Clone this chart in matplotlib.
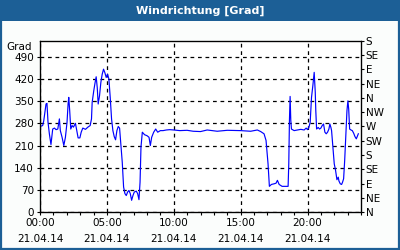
import matplotlib
matplotlib.use("Agg")
import matplotlib.pyplot as plt
from matplotlib.patches import Rectangle

# Stunden seit 00:00 und Windrichtung in Grad
hours = [0.0, 0.2, 0.28, 0.45, 0.52, 0.6, 0.7, 0.82, 0.95, 1.08, 1.2, 1.33, 1.45, 1.52, 1.65, 1.78,
         1.9, 2.02, 2.1, 2.15, 2.22, 2.3, 2.4, 2.5, 2.65, 2.75, 2.85, 2.98, 3.08, 3.2, 3.4, 3.58,
         3.75, 3.85, 3.9, 4.02, 4.12, 4.2, 4.28, 4.35, 4.45, 4.55, 4.65, 4.75, 4.85, 4.95, 5.05,
         5.15, 5.25, 5.35, 5.45, 5.55, 5.65, 5.75, 5.85, 5.95, 6.05, 6.15, 6.25, 6.35, 6.45, 6.55,
         6.65, 6.75, 6.85, 6.95, 7.05, 7.2, 7.3, 7.4, 7.48, 7.55, 7.65, 7.82, 8.0, 8.15, 8.25,
         8.35, 8.5, 8.65, 8.8, 9.0, 9.2, 9.45, 9.7, 10.0, 10.45, 11.0, 11.45, 12.0, 12.5, 13.25,
         14.0, 15.0, 15.75, 16.25, 16.5, 16.75, 16.9, 17.05, 17.15, 17.3, 17.5, 17.65, 17.75,
         17.88, 18.1, 18.35, 18.55, 18.6, 18.65, 18.7, 18.75, 18.8, 19.0, 19.25, 19.5, 19.75,
         19.9, 20.0, 20.1, 20.2, 20.3, 20.4, 20.5, 20.58, 20.62, 20.68, 20.8, 20.9, 21.0, 21.1,
         21.2, 21.3, 21.4, 21.5, 21.6, 21.67, 21.75, 21.8, 21.88, 22.0, 22.1, 22.2, 22.3, 22.35,
         22.45, 22.55, 22.62, 22.7, 22.78, 22.88, 22.95, 23.02, 23.08, 23.15, 23.25, 23.35,
         23.45, 23.55, 23.65, 23.8]
direction = [270, 273, 288, 341, 343, 283, 247, 213, 262, 265, 260, 262, 294, 257, 236, 210,
             236, 283, 341, 362, 320, 262, 273, 268, 280, 257, 234, 234, 252, 265, 261, 268,
             273, 294, 346, 383, 409, 427, 393, 341, 367, 409, 435, 451, 440, 425, 435, 420,
             362, 294, 257, 238, 228, 257, 270, 265, 210, 157, 79, 58, 52, 63, 68, 58, 37, 52,
             63, 66, 58, 39, 94, 205, 252, 244, 241, 236, 210, 236, 252, 262, 252, 257, 257,
             259, 260, 259, 257, 258, 255, 254, 259, 255, 258, 257, 255, 259, 254, 247, 226,
             152, 81, 87, 89, 91, 100, 87, 81, 81, 81, 152, 290, 365, 290, 262, 257, 259, 261,
             259, 265, 260, 267, 283, 362, 399, 441, 378, 320, 262, 267, 262, 265, 273, 278,
             252, 247, 252, 262, 278, 267, 257, 215, 152, 131, 102, 110, 98, 89, 87, 94, 105,
             163, 257, 320, 351, 325, 262, 259, 257, 249, 238, 231, 247]

left_ticks = [0, 70, 140, 210, 280, 350, 420, 490]
right_ticks = [0, 45, 90, 135, 180, 225, 270, 315, 360, 405, 450, 495, 540]
right_labels = ["N", "NE", "E", "SE", "S", "SW", "W", "NW", "N", "NE", "E", "SE", "S"]
x_ticks = [0, 5, 10, 15, 20]
x_labels = ["00:00\n21.04.14", "05:00\n21.04.14", "10:00\n21.04.14",
            "15:00\n21.04.14", "20:00\n21.04.14"]

blue = "#1c5f96"

fig = plt.figure(figsize=(4, 2.5), dpi=100)
fig.patch.set_facecolor("#fbfdfc")

# Titelleiste und Rahmen
fig.add_artist(Rectangle((0, 0.918), 1, 0.082, transform=fig.transFigure,
                         facecolor=blue, edgecolor="none"))
fig.add_artist(Rectangle((0.002, 0.003), 0.995, 0.994, transform=fig.transFigure,
                         facecolor="none", edgecolor=blue, linewidth=1.6))
fig.text(0.5, 0.958, "Windrichtung [Grad]", color="white", fontsize=8,
         fontweight="bold", ha="center", va="center")

ax = fig.add_axes([0.1, 0.152, 0.8025, 0.684])
ax.set_facecolor("white")
ax.plot(hours, direction, color="#0000ff", linewidth=0.85)
ax.set_xlim(0, 24)
ax.set_ylim(0, 540)

ax.set_yticks(left_ticks)
ax.set_yticklabels([str(v) for v in left_ticks], fontsize=7.5)
ax.set_xticks(x_ticks)
ax.set_xticklabels(x_labels, fontsize=7.5, linespacing=1.7)
ax.set_xticks(range(0, 25), minor=True)
ax.tick_params(axis="both", which="both", direction="out", length=2.5, width=0.8,
               pad=2, colors="black")
ax.grid(True, color="black", linestyle=(0, (3, 3)), linewidth=0.9)
for s in ax.spines.values():
    s.set_linewidth(0.9)
ax.text(-0.025, 0.965, "Grad", transform=ax.transAxes, ha="right", va="center",
        fontsize=7.5)

ax2 = ax.twinx()
ax2.set_ylim(0, 540)
ax2.set_yticks(right_ticks)
ax2.set_yticklabels(right_labels, fontsize=7.5)
ax2.tick_params(axis="y", direction="out", length=2.5, width=0.8, pad=1)

fig.savefig("out.png", dpi=100, facecolor=fig.get_facecolor())
